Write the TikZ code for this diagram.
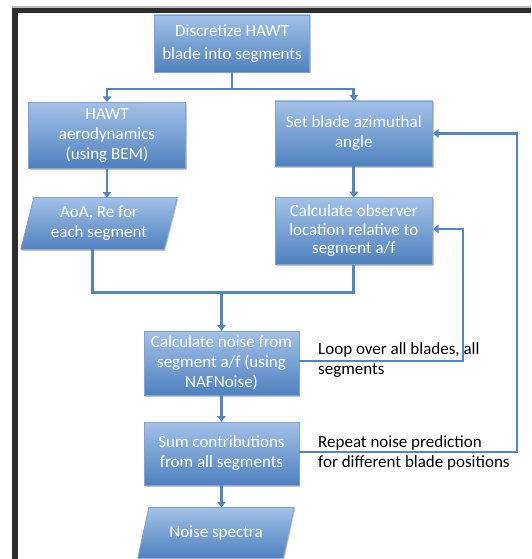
\documentclass[tikz,border=0pt]{standalone}
\usepackage{fontspec}
\setmainfont{Carlito}
\usetikzlibrary{arrows.meta,shadows,calc}
\definecolor{boxtop}{RGB}{162,193,232}
\definecolor{boxbot}{RGB}{79,129,191}
\definecolor{boxedge}{RGB}{125,163,212}
\definecolor{conncol}{RGB}{84,133,192}
\definecolor{framedark}{RGB}{45,45,45}
\definecolor{framegray}{RGB}{190,190,190}
\pgfdeclarelayer{bg}
\pgfsetlayers{bg,main}
\tikzset{
  boxfill/.style={top color=boxtop, bottom color=boxbot, draw=boxedge, line width=0.8pt,
    drop shadow={shadow xshift=1pt, shadow yshift=-1.5pt, fill=black, opacity=0.22}},
  boxfont/.style={font=\fontsize{17}{20}\selectfont},
  procbox/.style={rectangle, boxfill, text=white, align=center, inner sep=0pt, boxfont},
  iotext/.style={rectangle, text=white, align=center, inner sep=0pt, boxfont},
  conn/.style={draw=conncol, line width=2.8pt},
  arr/.style={conn, -{Triangle[width=8.5pt,length=5.5pt]}},
  lbl/.style={text=black, align=left, anchor=west, inner sep=0pt, boxfont}
}
\begin{document}
\begin{tikzpicture}[x=1pt,y=-1pt]
\useasboundingbox (0,0) rectangle (531,559);
% nodes
\node[procbox, minimum width=155.5pt, minimum height=57pt, font=\fontsize{17}{22.5}\selectfont] (disc) at (232,43.5) {Discretize HAWT\\blade into segments};
\node[procbox, minimum width=157pt, minimum height=66pt] (hawt) at (107,135.3) {HAWT\\aerodynamics\\(using BEM)};
\node[procbox, minimum width=157.6pt, minimum height=65pt] (setb) at (353.8,133.5) {Set blade azimuthal\\angle};
\node[iotext, minimum width=143pt, minimum height=51.3pt] (aoa) at (99,223.4) {AoA, Re for\\each segment};
\node[procbox, minimum width=157.6pt, minimum height=66.8pt, font=\fontsize{17}{18.5}\selectfont] (obs) at (353.8,231) {Calculate observer\\location relative to\\segment a/f};
\node[procbox, minimum width=155pt, minimum height=64pt] (noise) at (221.5,363) {Calculate noise from\\segment a/f (using\\NAFNoise)};
\node[procbox, minimum width=155pt, minimum height=63pt] (sum) at (221.5,453.5) {Sum contributions\\from all segments};
\node[iotext, minimum width=145pt, minimum height=50.4pt] (spec) at (216,532.8) {Noise spectra};
\node[lbl] (lblA) at (318,360) {Loop over all blades, all\\segments};
\node[lbl] (lblB) at (318,453) {Repeat noise prediction\\for different blade positions};
% background: frame and parallelograms
\begin{pgfonlayer}{bg}
  \fill[white] (0,0) rectangle (531,559);
  \fill[framegray] (12,6.5) rectangle (531,8.2);
  \fill[framedark] (12,8) rectangle (531,13);
  \fill[framedark] (12,8) rectangle (18,559);
  \path[boxfill] ([xshift=6.5pt]aoa.north west) -- ([xshift=6.5pt]aoa.north east) -- ([xshift=-6.5pt]aoa.south east) -- ([xshift=-6.5pt]aoa.south west) -- cycle;
  \path[boxfill] ([xshift=5.5pt]spec.north west) -- ([xshift=5.5pt]spec.north east) -- ([xshift=-5.5pt]spec.south east) -- ([xshift=-5.5pt]spec.south west) -- cycle;
\end{pgfonlayer}
% connectors
\coordinate (split) at (232,89);
\draw[conn] (disc.south) -- (split);
\draw[arr] (split) -| (hawt.north);
\draw[arr] (split) -| (setb.north);
\draw[arr] (hawt.south) -- (hawt.south |- aoa.north);
\draw[arr] (setb.south) -- (obs.north);
\coordinate (merge) at (221.5,292.6);
\draw[conn] ([xshift=-6.5pt]aoa.south) |- (merge) -| (obs.south);
\draw[arr] (merge) -- (noise.north);
\draw[arr] (noise.south) -- (sum.north);
\draw[arr] (sum.south) -- (sum.south |- spec.north);
\coordinate (loopA) at (463,300);
\coordinate (loopB) at (517,300);
\draw[arr] ([yshift=2pt]noise.east) -| (loopA) |- ([yshift=2pt]obs.east);
\draw[arr] ([yshift=1.5pt]sum.east) -| (loopB) |- (setb.east);
\end{tikzpicture}
\end{document}
